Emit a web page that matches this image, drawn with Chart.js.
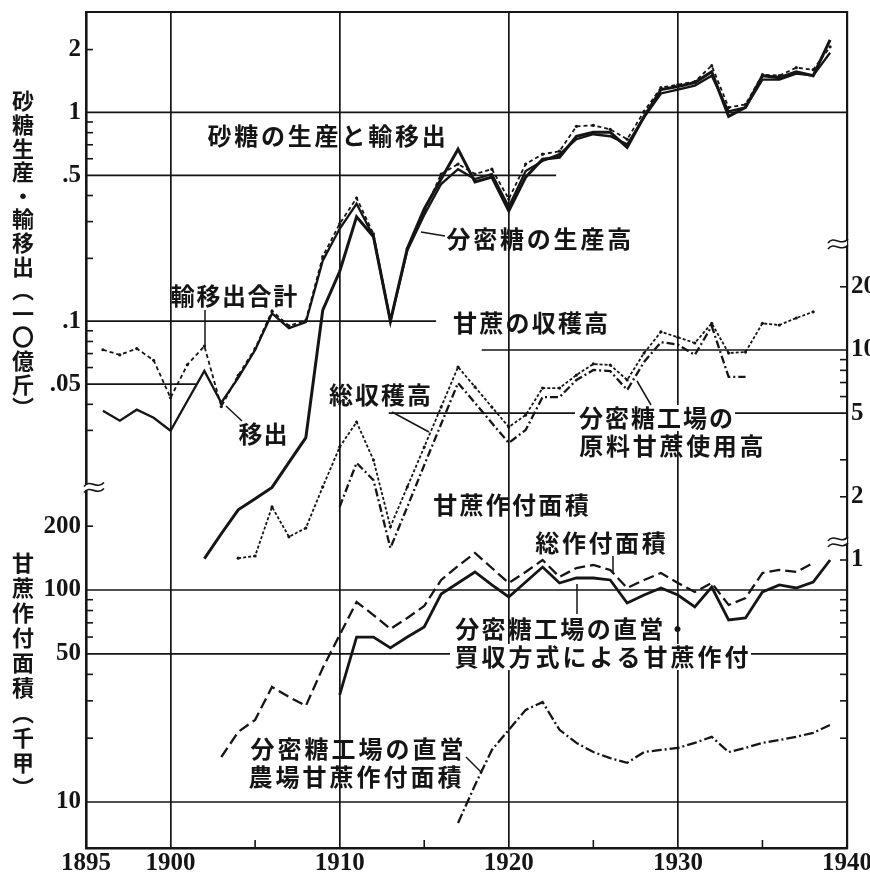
<!DOCTYPE html>
<html>
<head>
<meta charset="utf-8">
<script src="https://cdn.jsdelivr.net/npm/chart.js@4.4.1/dist/chart.umd.min.js"></script>
<style>
html,body{margin:0;padding:0;background:#ffffff;}
#c{display:block;}
</style>
</head>
<body>
<canvas id="c" width="870" height="879"></canvas>
<script>
// ---------------- data ----------------
// Top panel: sugar, unit 10億斤 (left log axis)
const exportYears = [1896,1897,1898,1899,1900,1901,1902,1903,1904,1905,1906,1907,1908,1909,1910,1911,1912,1913,1914,1915,1916,1917,1918,1919,1920,1921,1922,1923,1924,1925,1926,1927,1928,1929,1930,1931,1932,1933,1934,1935,1936,1937,1938,1939];
const totalExports = [0.073,0.069,0.074,0.065,0.043,0.062,0.076,0.039,0.055,0.074,0.112,0.095,0.101,0.204,0.293,0.389,0.262,0.100,0.223,0.334,0.507,0.566,0.507,0.535,0.385,0.566,0.631,0.652,0.858,0.867,0.830,0.744,1.011,1.315,1.359,1.405,1.675,1.056,1.092,1.517,1.50,1.638,1.602,2.062];
const shipments = [0.0373,0.0334,0.0377,0.0345,0.0299,0.0416,0.0578,0.0407,0.0535,0.0728,0.109,0.0926,0.0989,0.195,0.277,0.365,0.254,0.100,0.218,0.323,0.454,0.535,0.48,0.507,0.353,0.524,0.585,0.631,0.744,0.786,0.769,0.704,0.947,1.232,1.287,1.345,1.50,1.011,1.056,1.436,1.436,1.533,1.50,1.931];
const centrifugalYears = [1902,1903,1904,1905,1906,1907,1908,1909,1910,1911,1912,1913,1914,1915,1916,1917,1918,1919,1920,1921,1922,1923,1924,1925,1926,1927,1928,1929,1930,1931,1932,1933,1934,1935,1936,1937,1938,1939];
const centrifugalProduction = [0.0073,0.0096,0.0125,0.0141,0.016,0.0211,0.0277,0.113,0.173,0.316,0.254,0.100,0.223,0.345,0.48,0.667,0.464,0.49,0.338,0.49,0.597,0.61,0.769,0.803,0.803,0.681,0.957,1.287,1.33,1.39,1.567,0.957,1.056,1.50,1.468,1.567,1.50,2.227];

// Middle: sugar-cane harvest (right log axis)
const harvestYears = [1904,1905,1906,1907,1908,1909,1910,1911,1912,1913,1914,1915,1916,1917,1918,1919,1920,1921,1922,1923,1924,1925,1926,1927,1928,1929,1930,1931,1932,1933,1934,1935,1936,1937,1938];
const totalHarvest = [1.02,1.045,1.79,1.29,1.42,2.23,3.45,4.54,2.99,1.44,2.23,3.45,5.35,8.3,6.67,5.35,4.3,4.9,6.59,6.59,7.6,8.58,8.48,7.2,9.67,12.2,11.5,10.8,13.4,9.67,9.78,13.4,13.15,14.2,15.2];
const millCaneYears = [1910,1911,1912,1913,1914,1915,1916,1917,1918,1919,1920,1921,1922,1923,1924,1925,1926,1927,1928,1929,1930,1931,1932,1933,1934];
const millCaneUsed = [1.79,2.9,2.4,1.14,1.79,2.83,4.44,6.97,5.6,4.49,3.61,4.16,5.97,5.97,7.2,8.03,7.94,6.45,8.77,10.9,10.6,9.47,13.0,7.44,7.44];

// Bottom: planted area, unit 千甲 (left log axis, lower)
const plantedYears = [1903,1904,1905,1906,1907,1908,1909,1910,1911,1912,1913,1914,1915,1916,1917,1918,1919,1920,1921,1922,1923,1924,1925,1926,1927,1928,1929,1930,1931,1932,1933,1934,1935,1936,1937,1938];
const totalPlanted = [16.3,21.4,24.4,34.9,31.3,28.4,42.9,61.4,87.8,76.2,65.5,73.8,84.0,111.5,129.8,149.5,127,107.9,121.6,138.5,115.2,127,131.2,124.3,102.2,111.5,120.3,107.9,97.9,107.9,85,91.7,120.3,124.3,121.6,134];
const contractYears = [1910,1911,1912,1913,1914,1915,1916,1917,1918,1919,1920,1921,1922,1923,1924,1925,1926,1927,1928,1929,1930,1931,1932,1933,1934,1935,1936,1937,1938,1939];
const contractPlanted = [32.0,60,60,53.3,60,66.9,95.7,107.9,121.6,105.6,92.7,109.1,128.3,107.9,113.9,113.9,111.5,86.8,94.7,102.2,94.7,83.2,103.3,72.2,73.8,97.9,105.6,102.2,109.1,138.5];
const farmYears = [1917,1918,1919,1920,1921,1922,1923,1924,1925,1926,1927,1928,1929,1930,1931,1932,1933,1934,1935,1936,1937,1938,1939];
const farmPlanted = [7.96,12.0,17.6,21.9,27.2,29.6,21.9,19.0,17.2,16.1,15.3,17.2,17.6,18.0,19.0,20.3,17.2,18.0,19.0,19.6,20.3,21.2,23.1];

// tick values and labels
const xTickYears = [1895,1900,1910,1920,1930,1940];
const xMinorYears = [1905,1915,1925,1935];
const xGridYears = [1900,1910,1920,1930];
const sugarTicks = [2,1,0.5,0.1,0.05];
const sugarTickLabels = ['2','1','.5','.1','.05'];
const sugarMinor = [2,0.9,0.8,0.7,0.6,0.4,0.3,0.2,0.09,0.08,0.07,0.06,0.04,0.03];
const harvestTicks = [20,10,5,2,1];
const harvestTickLabels = ['20','10','5','2','1'];
const harvestMinor = [20,9,8,7,6,3,2,1];
const areaTicks = [200,100,50,10];
const areaTickLabels = ['200','100','50','10'];
const areaMinorLeft = [200,90,80,70,60,40,30,20];
const areaMinorRight = [90,80,70,60,40,30,20];

// ---------------- styling / layout ----------------
const INK = '#151515';
const SERIF = "'Liberation Serif','DejaVu Serif',serif";
const CJK = "'Noto Sans CJK JP','Noto Sans CJK SC',sans-serif";
const TOP = 12, BOTTOM = 848, LEFT = 86, RIGHT = 847;
// log axis ranges anchored so that reference gridlines fall where printed
function logRange(anchorVal, anchorPx, pxPerDecade) {
  const lv = Math.log10(anchorVal);
  return { min: Math.pow(10, lv - (BOTTOM - anchorPx) / pxPerDecade),
           max: Math.pow(10, lv + (anchorPx - TOP) / pxPerDecade) };
}
const sugarRange = logRange(1, 113, 210);
const harvestRange = logRange(10, 350, 210);
const areaRange = logRange(100, 590, 212);

const pts = (xs, ys) => xs.map((x, i) => ({ x: x, y: ys[i] }));

const datasets = [
  { label: '輸移出合計', data: pts(exportYears, totalExports), yAxisID: 'ySugar',
    borderWidth: 1.8, borderDash: [4, 3], pointRadius: 1.6, pointBackgroundColor: INK, pointBorderWidth: 0 },
  { label: '移出', data: pts(exportYears, shipments), yAxisID: 'ySugar', borderWidth: 2.3 },
  { label: '分密糖の生産高', data: pts(centrifugalYears, centrifugalProduction), yAxisID: 'ySugar', borderWidth: 3 },
  { label: '総収穫高', data: pts(harvestYears, totalHarvest), yAxisID: 'yHarvest',
    borderWidth: 1.8, borderDash: [3, 2], pointRadius: 1.6, pointBackgroundColor: INK, pointBorderWidth: 0 },
  { label: '分密糖工場の原料甘蔗使用高', data: pts(millCaneYears, millCaneUsed), yAxisID: 'yHarvest',
    borderWidth: 2.3, borderDash: [8, 3, 2, 3] },
  { label: '総作付面積', data: pts(plantedYears, totalPlanted), yAxisID: 'yArea',
    borderWidth: 2.3, borderDash: [11, 5] },
  { label: '分密糖工場の直営・買収方式による甘蔗作付', data: pts(contractYears, contractPlanted), yAxisID: 'yArea', borderWidth: 2.8 },
  { label: '分密糖工場の直営農場甘蔗作付面積', data: pts(farmYears, farmPlanted), yAxisID: 'yArea',
    borderWidth: 2.3, borderDash: [10, 3, 2, 3] }
];
datasets.forEach(d => { d.borderColor = INK; d.fill = false; d.tension = 0; if (d.pointRadius === undefined) d.pointRadius = 0; });

// ---------------- decorations plugin ----------------
const decor = {
  id: 'decor',
  beforeDatasetsDraw(chart) {
    const { ctx, chartArea: ca, scales } = chart;
    const xs = scales.x, ys = scales.ySugar, yh = scales.yHarvest, ya = scales.yArea;
    const X = v => xs.getPixelForValue(v);
    ctx.save();
    ctx.strokeStyle = INK;
    ctx.lineWidth = 1.7;
    const hline = (y, x1, x2) => { ctx.beginPath(); ctx.moveTo(x1, y); ctx.lineTo(x2, y); ctx.stroke(); };
    // partial horizontal gridlines
    hline(ys.getPixelForValue(1), ca.left, ca.right);
    hline(ys.getPixelForValue(0.5), ca.left, X(1922.8));
    hline(ys.getPixelForValue(0.1), ca.left, X(1915.7));
    hline(ys.getPixelForValue(0.05), ca.left, X(1901.5));
    hline(yh.getPixelForValue(10), X(1918.4), ca.right);
    hline(yh.getPixelForValue(5), X(1912.9), ca.right);
    hline(ya.getPixelForValue(100), ca.left, ca.right);
    hline(ya.getPixelForValue(50), ca.left, ca.right);
    hline(ya.getPixelForValue(10), ca.left, ca.right);
    // top border
    ctx.lineWidth = 2.2;
    hline(ca.top, ca.left - 1, ca.right + 1);
    // inner tick marks
    ctx.lineWidth = 1.6;
    sugarMinor.forEach(v => hline(ys.getPixelForValue(v), ca.left, ca.left + 7));
    areaMinorLeft.forEach(v => hline(ya.getPixelForValue(v), ca.left, ca.left + 7));
    harvestMinor.forEach(v => hline(yh.getPixelForValue(v), ca.right - 7, ca.right));
    areaMinorRight.forEach(v => hline(ya.getPixelForValue(v), ca.right - 7, ca.right));
    xMinorYears.forEach(v => { ctx.beginPath(); ctx.moveTo(X(v), ca.bottom); ctx.lineTo(X(v), ca.bottom - 8); ctx.stroke(); });
    // area axis labels (lower left)
    ctx.fillStyle = INK;
    ctx.font = 'bold 25px ' + SERIF;
    ctx.textAlign = 'right';
    ctx.textBaseline = 'middle';
    areaTicks.forEach((v, i) => ctx.fillText(areaTickLabels[i], ca.left - 5, ya.getPixelForValue(v)));
    // axis break marks
    const brk = (cx, cy) => {
      ctx.fillStyle = '#fff';
      ctx.fillRect(cx - 9, cy - 3, 18, 6);
      ctx.strokeStyle = INK; ctx.lineWidth = 1.6;
      [-3, 3].forEach(o => {
        ctx.beginPath();
        ctx.moveTo(cx - 10, cy + o + 2);
        ctx.bezierCurveTo(cx - 4, cy + o - 6, cx + 3, cy + o + 6, cx + 10, cy + o - 2);
        ctx.stroke();
      });
    };
    brk(ca.left + 8, ys.getPixelForValue(0.016));
    brk(ca.right - 9, yh.getPixelForValue(32));
    brk(ca.right - 9, yh.getPixelForValue(1.22));
    ctx.restore();
  },
  afterDatasetsDraw(chart) {
    const { ctx } = chart;
    ctx.save();
    ctx.fillStyle = INK;
    ctx.strokeStyle = INK;
    ctx.textBaseline = 'middle';
    ctx.textAlign = 'center';
    const row = (text, x, y, pitch, bg) => {
      if (bg) { ctx.save(); ctx.fillStyle = '#fff'; ctx.fillRect(x - 3, y - 13, text.length * pitch + 4, 26); ctx.restore(); }
      for (let i = 0; i < text.length; i++) ctx.fillText(text[i], x + pitch * (i + 0.5), y);
    };
    const col = (text, x, y, pitch) => {
      for (let i = 0; i < text.length; i++) ctx.fillText(text[i], x, y + pitch * i);
    };
    const seg = (x1, y1, x2, y2) => { ctx.beginPath(); ctx.moveTo(x1, y1); ctx.lineTo(x2, y2); ctx.stroke(); };
    ctx.lineWidth = 1.5;
    // vertical axis titles
    ctx.font = 'bold 22px ' + CJK;
    col('砂糖生産・輸移出︵一〇億斤︶', 23, 101, 23.6);
    col('甘蔗作付面積︵千甲︶', 23, 563, 25);
    // annotations
    ctx.font = 'bold 24px ' + CJK;
    row('砂糖の生産と輸移出', 206, 136, 26.8);
    row('分密糖の生産高', 445, 239, 26.8);
    seg(421, 232, 445, 236);
    row('輸移出合計', 170, 296, 25.6);
    seg(205, 310, 205, 347);
    row('移出', 238, 434, 25);
    seg(226, 406, 242, 421);
    row('総収穫高', 328, 395, 26);
    seg(392, 412, 429, 432);
    row('甘蔗の収穫高', 452, 323, 26.2);
    row('分密糖工場の', 578, 418, 26, true);
    row('原料甘蔗使用高', 578, 446, 26.7);
    seg(637, 381, 651, 405);
    row('甘蔗作付面積', 432, 505, 26.3);
    row('総作付面積', 534, 543, 26.6);
    seg(613, 556, 613, 573);
    row('分密糖工場の直営・', 454, 629, 26.3);
    seg(577, 614, 577, 584);
    row('買収方式による甘蔗作付', 453, 657, 27, true);
    row('分密糖工場の直営', 249, 749, 27);
    row('農場甘蔗作付面積', 247, 777, 27);
    seg(466, 757, 482, 773);
    ctx.restore();
  }
};

const tickFont = { family: SERIF, size: 25, weight: 'bold' };

new Chart(document.getElementById('c'), {
  type: 'line',
  data: { datasets: datasets },
  options: {
    responsive: false,
    animation: false,
    devicePixelRatio: 1,
    layout: { padding: { top: TOP, left: 0, right: 0, bottom: 0 } },
    plugins: { legend: { display: false }, tooltip: { enabled: false } },
    scales: {
      x: {
        type: 'linear', min: 1895, max: 1940, position: 'bottom',
        afterBuildTicks: s => { s.ticks = xTickYears.map(v => ({ value: v })); },
        afterFit: s => { s.height = 879 - BOTTOM; s.paddingLeft = 0; s.paddingRight = 0; },
        ticks: { autoSkip: false, maxRotation: 0, minRotation: 0, color: INK, font: tickFont, padding: 1,
                 callback: v => String(v) },
        grid: { drawTicks: false, lineWidth: 1.7,
                color: c => (c.tick && xGridYears.includes(c.tick.value)) ? INK : 'rgba(0,0,0,0)' },
        border: { display: true, color: INK, width: 2.4 }
      },
      ySugar: {
        type: 'logarithmic', position: 'left', min: sugarRange.min, max: sugarRange.max,
        afterBuildTicks: s => { s.ticks = sugarTicks.map(v => ({ value: v })); },
        afterFit: s => { s.width = LEFT; s.paddingTop = 0; s.paddingBottom = 0; },
        ticks: { autoSkip: false, color: INK, font: tickFont, padding: 5,
                 callback: (v, i) => sugarTickLabels[i] },
        grid: { display: false, drawTicks: false },
        border: { display: true, color: INK, width: 2.6 }
      },
      yHarvest: {
        type: 'logarithmic', position: 'right', min: harvestRange.min, max: harvestRange.max,
        afterBuildTicks: s => { s.ticks = harvestTicks.map(v => ({ value: v })); },
        afterFit: s => { s.width = 870 - RIGHT; s.paddingTop = 0; s.paddingBottom = 0; },
        ticks: { autoSkip: false, color: INK, font: tickFont, padding: 4,
                 callback: (v, i) => harvestTickLabels[i] },
        grid: { display: false, drawTicks: false },
        border: { display: true, color: INK, width: 2.2 }
      },
      yArea: {
        type: 'logarithmic', display: false, min: areaRange.min, max: areaRange.max
      }
    }
  },
  plugins: [decor]
});
</script>
</body>
</html>
